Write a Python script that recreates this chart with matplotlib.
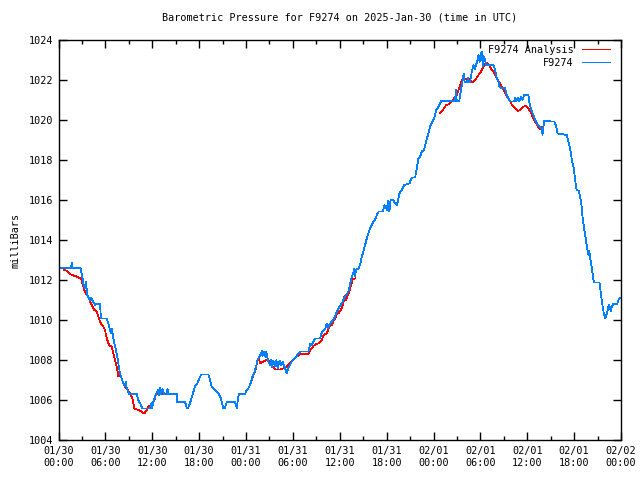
import numpy as np
import matplotlib
matplotlib.use("Agg")
import matplotlib.pyplot as plt
from matplotlib.ticker import MultipleLocator, FixedLocator

# hours since 2025-01-30 00:00 UTC, pressure in mbar
station_h = [
    0.0, 1.6, 1.7, 1.8, 2.8, 2.97, 3.18, 3.39, 3.55, 3.65, 4.03, 4.2, 4.4, 4.67, 4.8,
    5.31, 5.44, 6.17, 6.38, 6.72, 6.85, 6.95, 7.15, 7.45, 7.66, 7.87, 8.09, 8.3, 8.5,
    8.6, 8.73, 9.03, 10.01, 10.22, 10.56, 10.73, 11.72, 11.9, 12.0, 12.14, 12.36, 12.6,
    12.78, 12.9, 13.0, 13.1, 13.3, 13.5, 13.87, 13.95, 14.05, 15.13, 15.15, 16.2, 16.41,
    16.6, 16.84, 17.1, 17.46, 17.8, 18.12, 18.33, 19.18, 19.4, 19.6, 20.03, 20.3, 20.68,
    20.9, 21.1, 21.3, 21.54, 22.6, 22.82, 22.95, 23.1, 23.88, 24.0, 24.3, 24.6, 24.74,
    25.03, 25.29, 25.46, 25.71, 25.93, 26.0, 26.1, 26.3, 26.5, 26.6, 26.86, 27.08, 27.2,
    27.35, 27.5, 27.7, 27.9, 28.05, 28.3, 28.5, 28.7, 28.9, 29.22, 29.4, 29.86, 30.28,
    30.7, 31.0, 31.98, 32.1, 32.2, 32.4, 32.84, 33.48, 33.7, 34.12, 34.34, 34.5, 34.7,
    35.19, 35.53, 35.83, 36.26, 36.68, 37.11, 37.54, 37.7, 37.84, 37.95, 38.1, 38.39,
    38.6, 38.82, 39.03, 39.25, 39.46, 39.67, 39.88, 40.23, 40.53, 40.82, 41.0, 41.51,
    41.72, 41.9, 42.0, 42.2, 42.35, 42.5, 42.87, 43.05, 43.3, 43.45, 43.64, 43.94, 44.24,
    44.92, 45.22, 45.65, 45.86, 46.07, 46.29, 46.5, 46.8, 47.05, 47.35, 47.57, 47.86,
    48.08, 48.34, 48.5, 48.76, 48.98, 50.77, 50.85, 50.98, 51.3, 51.54, 51.75, 51.85,
    52.0, 52.3, 52.4, 52.5, 52.69, 52.9, 53.12, 53.3, 53.45, 53.63, 53.76, 53.9, 54.05,
    54.19, 54.3, 54.4, 54.61, 54.75, 55.67, 55.89, 56.1, 56.31, 56.44, 56.6, 57.17,
    57.3, 57.47, 57.81, 58.3, 58.45, 58.6, 58.8, 58.95, 59.2, 59.4, 59.6, 60.15, 60.28,
    60.59, 60.8, 61.01, 61.23, 61.44, 61.87, 61.95, 62.17, 63.48, 63.7, 63.87, 65.07,
    65.28, 65.49, 65.71, 65.92, 66.05, 66.23, 66.35, 66.6, 66.77, 66.9, 67.07, 67.28,
    67.45, 67.63, 67.84, 67.95, 68.05, 68.27, 68.48, 68.6, 69.25, 69.42, 69.55, 69.76,
    69.97, 70.2, 70.39, 70.5, 70.69, 70.85, 71.03, 71.5, 71.68, 71.9,
]
station_p = [
    1012.6, 1012.6, 1012.88, 1012.6, 1012.6, 1012.33, 1011.83, 1011.58, 1011.9, 1011.25,
    1011.0, 1011.1, 1010.95, 1010.75, 1010.8, 1010.8, 1010.08, 1010.08, 1009.83, 1009.33,
    1009.55, 1009.25, 1008.83, 1008.33, 1007.83, 1007.33, 1007.08, 1006.83, 1006.7,
    1006.9, 1006.6, 1006.3, 1006.3, 1006.0, 1005.75, 1005.58, 1005.58, 1005.85, 1005.6,
    1005.9, 1006.17, 1006.4, 1006.5, 1006.25, 1006.6, 1006.3, 1006.55, 1006.3, 1006.3,
    1006.55, 1006.3, 1006.3, 1005.9, 1005.9, 1005.6, 1005.6, 1005.85, 1006.2, 1006.67,
    1006.85, 1007.17, 1007.28, 1007.28, 1007.0, 1006.67, 1006.5, 1006.4, 1006.2, 1005.9,
    1005.6, 1005.6, 1005.9, 1005.9, 1005.6, 1006.0, 1006.3, 1006.3, 1006.42, 1006.58,
    1006.83, 1007.08, 1007.33, 1007.67, 1008.0, 1008.17, 1008.33, 1008.45, 1008.2,
    1008.4, 1008.15, 1008.4, 1007.92, 1007.75, 1008.0, 1007.65, 1007.95, 1007.7, 1008.0,
    1007.6, 1007.95, 1007.75, 1007.9, 1007.7, 1007.33, 1007.58, 1007.92, 1008.08,
    1008.33, 1008.42, 1008.42, 1008.58, 1008.8, 1008.75, 1009.08, 1009.08, 1009.37,
    1009.53, 1009.83, 1009.6, 1009.8, 1010.0, 1010.33, 1010.58, 1010.83, 1011.17,
    1011.42, 1012.17, 1012.3, 1012.58, 1012.2, 1012.5, 1012.58, 1012.75, 1013.17,
    1013.42, 1013.75, 1014.08, 1014.33, 1014.58, 1014.87, 1015.03, 1015.33, 1015.42,
    1015.42, 1015.75, 1015.67, 1015.5, 1015.95, 1015.42, 1016.0, 1016.0, 1015.85,
    1015.75, 1015.95, 1016.33, 1016.5, 1016.75, 1016.83, 1017.12, 1017.12, 1017.58,
    1018.08, 1018.17, 1018.42, 1018.5, 1018.92, 1019.33, 1019.67, 1019.92, 1020.08,
    1020.5, 1020.58, 1020.75, 1020.95, 1020.95, 1021.5, 1020.95, 1020.95, 1021.58,
    1022.0, 1022.33, 1021.9, 1021.9, 1022.1, 1021.9, 1021.9, 1022.42, 1022.75, 1022.55,
    1022.75, 1023.0, 1023.25, 1022.9, 1023.33, 1023.42, 1022.7, 1023.2, 1023.0, 1022.75,
    1022.75, 1022.5, 1022.08, 1021.92, 1021.67, 1021.6, 1021.6, 1021.33, 1021.17,
    1020.92, 1020.92, 1021.1, 1020.95, 1021.12, 1020.92, 1021.15, 1021.0, 1021.25,
    1021.25, 1020.83, 1020.42, 1020.25, 1020.0, 1019.83, 1019.75, 1019.58, 1019.25,
    1019.95, 1019.92, 1019.67, 1019.33, 1019.25, 1018.92, 1018.58, 1018.0, 1017.67,
    1017.25, 1016.7, 1016.47, 1016.47, 1016.17, 1015.92, 1015.17, 1014.58, 1014.17,
    1013.67, 1013.25, 1013.45, 1013.1, 1012.58, 1012.0, 1011.88, 1011.88, 1011.33,
    1010.92, 1010.42, 1010.08, 1010.33, 1010.67, 1010.75, 1010.42, 1010.7, 1010.8,
    1010.8, 1011.0, 1011.12,
]

# analysis series, three separate pieces (None = gap)
analysis_h = [
    0.74, 1.0, 1.26, 1.69, 2.11, 2.54, 2.88, 3.05, 3.31, 3.61, 3.82, 4.03, 4.25, 4.59,
    4.89, 5.1, 5.31, 5.53, 5.74, 5.95, 6.17, 6.47, 6.81, 7.02, 7.23, 7.45, 7.66, 8.0,
    8.3, 8.51, 8.86, 9.16, 9.45, 9.71, 10.01, 10.44, 10.73, 10.99, 11.17, 11.5, 11.93,
    12.27, 12.51, 12.9, 13.42, None,
    24.6, 24.74, 25.03, 25.29, 25.46, 25.6, 25.83, 26.22, 26.64, 26.95, 27.3, 27.72,
    28.36, 28.79, 29.22, 29.64, 30.06, 30.49, 30.92, 31.98, 32.2, 32.62, 32.97, 33.27,
    33.7, 33.91, 34.34, 34.68, 34.98, 35.2, 35.53, 35.7, 35.85, 36.26, 36.47, 36.6,
    36.8, 37.0, 37.2, 37.4, 37.66, 37.96, None,
    48.85, 49.19, 49.62, 50.04, 50.34, 50.64, 50.98, 51.2, 51.41, 51.63, 52.07, 52.5,
    52.7, 52.9, 53.33, 53.76, 54.06, 54.4, 54.74, 55.04, 55.34, 55.68, 56.02, 56.32,
    56.5, 56.75, 56.96, 57.17, 57.39, 57.73, 58.04, 58.45, 58.76, 59.09, 59.52, 59.87,
    60.15, 60.46, 60.8, 61.14, 61.44, 61.66, 61.87, 62.0,
]
analysis_p = [
    1012.5, 1012.47, 1012.37, 1012.25, 1012.2, 1012.13, 1012.08, 1011.83, 1011.5,
    1011.25, 1011.17, 1010.92, 1010.75, 1010.5, 1010.42, 1010.17, 1009.92, 1009.75,
    1009.67, 1009.5, 1009.08, 1008.75, 1008.67, 1008.33, 1008.0, 1007.67, 1007.2,
    1007.17, 1006.83, 1006.67, 1006.5, 1006.33, 1006.08, 1005.58, 1005.53, 1005.47,
    1005.37, 1005.33, 1005.42, 1005.67, 1005.75, 1006.0, 1006.33, 1006.3, 1006.3, None,
    1006.9, 1007.0, 1007.33, 1007.58, 1008.0, 1008.08, 1007.83, 1007.92, 1008.0,
    1007.97, 1007.75, 1007.53, 1007.53, 1007.58, 1007.67, 1007.83, 1008.0, 1008.17,
    1008.3, 1008.3, 1008.5, 1008.7, 1008.8, 1008.83, 1009.0, 1009.25, 1009.33, 1009.67,
    1009.75, 1009.95, 1010.17, 1010.42, 1010.33, 1010.58, 1010.83, 1011.2, 1011.0,
    1011.2, 1011.42, 1011.67, 1012.03, 1012.08, None,
    1020.33, 1020.5, 1020.75, 1020.8, 1020.92, 1021.08, 1021.25, 1021.5, 1021.75,
    1022.0, 1022.03, 1022.08, 1022.03, 1021.87, 1022.0, 1022.25, 1022.42, 1022.67,
    1022.87, 1022.8, 1022.58, 1022.42, 1022.17, 1021.92, 1021.83, 1021.67, 1021.5,
    1021.33, 1021.17, 1021.0, 1020.75, 1020.58, 1020.45, 1020.5, 1020.67, 1020.7,
    1020.58, 1020.37, 1020.08, 1019.83, 1019.63, 1019.53, 1019.67, 1019.67,
]

tick_labels = ["01/30\n00:00", "01/30\n06:00", "01/30\n12:00", "01/30\n18:00",
               "01/31\n00:00", "01/31\n06:00", "01/31\n12:00", "01/31\n18:00",
               "02/01\n00:00", "02/01\n06:00", "02/01\n12:00", "02/01\n18:00",
               "02/02\n00:00"]

FONT = "DejaVu Sans Mono"
FS = 7.3
LW = 0.55

fig = plt.figure(figsize=(6.4, 4.8), dpi=100)
ax = fig.add_axes([58.5 / 640, 40 / 480, 562.5 / 640, 400 / 480])

a_h = np.array([np.nan if v is None else v for v in analysis_h], dtype=float)
a_p = np.array([np.nan if v is None else v for v in analysis_p], dtype=float)

# thin 1px lines, no smoothing, like the gnuplot png terminal
ax.plot(a_h, a_p, color="#ff0000", lw=LW, antialiased=False, label="F9274 Analysis")
ax.plot(station_h, station_p, color="#0080ff", lw=LW, antialiased=False, label="F9274")

ax.set_xlim(0, 72)
ax.set_ylim(1004, 1024)
ax.xaxis.set_major_locator(FixedLocator(np.arange(0, 73, 6)))
ax.xaxis.set_minor_locator(MultipleLocator(3))
ax.yaxis.set_major_locator(MultipleLocator(2))
ax.set_xticklabels(tick_labels, fontfamily=FONT, fontsize=FS, linespacing=1.3)
for lbl in ax.get_yticklabels():
    lbl.set_fontfamily(FONT)
    lbl.set_fontsize(FS)
ax.tick_params(which="both", direction="in", top=True, right=True, width=1, color="black")
ax.tick_params(which="major", length=6, pad=4)
ax.tick_params(which="minor", length=3)
for s in ax.spines.values():
    s.set_linewidth(1)

ax.set_ylabel("milliBars", fontfamily=FONT, fontsize=FS, labelpad=6)
ax.set_title("Barometric Pressure for F9274 on 2025-Jan-30 (time in UTC)",
             fontfamily=FONT, fontsize=FS, pad=14)

leg = ax.legend(loc="upper right", bbox_to_anchor=(0.9858, 0.995), frameon=False,
                markerfirst=False, prop={"family": FONT, "size": FS},
                handlelength=2.8, borderaxespad=0.0, labelspacing=0.25,
                handletextpad=0.8, borderpad=0.3, alignment="right")
for h in leg.get_lines():
    h.set_linewidth(LW)
    h.set_antialiased(False)

fig.savefig("out.png", dpi=100)
